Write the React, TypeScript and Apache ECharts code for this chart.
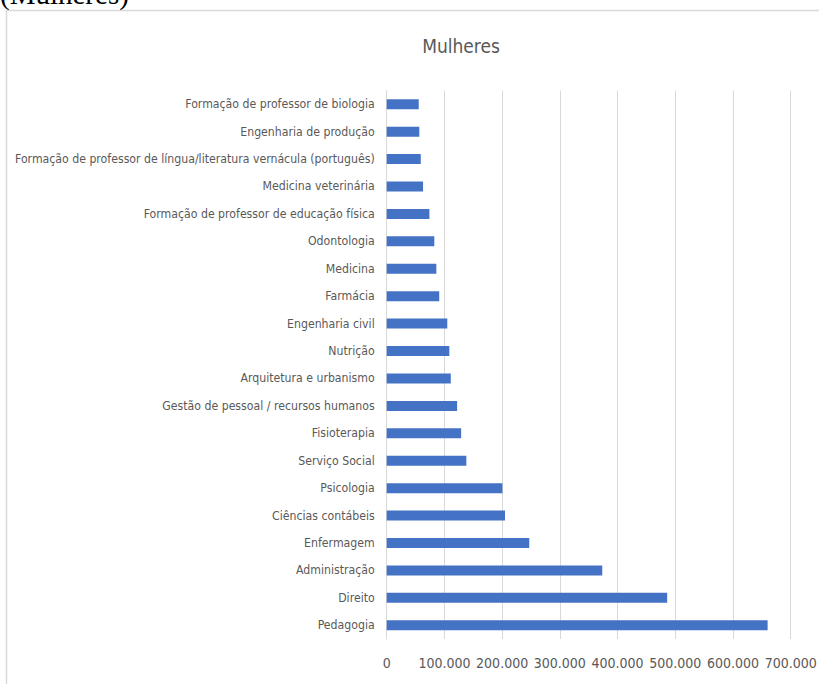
import React, { useEffect, useRef } from "react";
import * as echarts from "echarts";

const categories = [
  "Formação de professor de biologia",
  "Engenharia de produção",
  "Formação de professor de língua/literatura vernácula (português)",
  "Medicina veterinária",
  "Formação de professor de educação física",
  "Odontologia",
  "Medicina",
  "Farmácia",
  "Engenharia civil",
  "Nutrição",
  "Arquitetura e urbanismo",
  "Gestão de pessoal / recursos humanos",
  "Fisioterapia",
  "Serviço Social",
  "Psicologia",
  "Ciências contábeis",
  "Enfermagem",
  "Administração",
  "Direito",
  "Pedagogia",
];

const values = [
  55500, 56500, 59000, 63000, 74000, 82500, 86000, 91000, 105000, 108500,
  111000, 122000, 129000, 138000, 200500, 205000, 247000, 373500, 486000, 660000,
];

const chartTitle = "Mulheres";
const pageCaption = "(Mulheres)";

const NARROW = '"Liberation Sans Narrow", "DejaVu Sans Condensed", "Roboto", sans-serif';

function fmt(v: number): string {
  return String(v).replace(/\B(?=(\d{3})+(?!\d))/g, ".");
}

export default function App() {
  const ref = useRef<HTMLDivElement>(null);
  useEffect(() => {
    if (!ref.current) return;
    const chart = echarts.init(ref.current, undefined, { renderer: "svg" });
    chart.setOption({
      animation: false,
      backgroundColor: "#ffffff",
      title: {
        text: chartTitle,
        left: 456,
        top: 31,
        textAlign: "center",
        textStyle: { color: "#595959", fontSize: 19, fontWeight: "normal", fontFamily: NARROW },
      },
      graphic: [
        {
          type: "rect",
          shape: { x: 6.5, y: 10.5, width: 840, height: 700 },
          style: { fill: "none", stroke: "#d9d9d9", lineWidth: 1.5 },
          silent: true,
        },
        {
          type: "text",
          x: 0,
          y: -20.5,
          style: {
            text: pageCaption,
            fill: "#000000",
            font: '29px "Liberation Serif", "Times New Roman", serif',
          },
          silent: true,
        },
      ],
      grid: {
        left: 386.7,
        right: 28.3,
        top: 90.5,
        bottom: 45,
        containLabel: false,
        outerBoundsMode: "none",
      },
      xAxis: {
        type: "value",
        min: 0,
        max: 700000,
        interval: 100000,
        axisLine: { show: false },
        axisTick: { show: false },
        splitLine: { show: true, lineStyle: { color: "#d9d9d9", width: 1 } },
        axisLabel: {
          color: "#595959",
          fontSize: 14,
          fontFamily: NARROW,
          margin: 17,
          formatter: (v: number) => fmt(v),
        },
      },
      yAxis: {
        type: "category",
        data: categories,
        inverse: true,
        axisLine: { show: true, lineStyle: { color: "#d9d9d9", width: 1 } },
        axisTick: { show: false },
        axisLabel: { color: "#595959", fontSize: 12.2, fontFamily: NARROW, margin: 12 },
      },
      series: [
        {
          type: "bar",
          data: values,
          barWidth: 10,
          itemStyle: { color: "#4472C4" },
        },
      ],
    });
    return () => chart.dispose();
  }, []);
  return (
    <div
      ref={ref}
      style={{ position: "fixed", left: 0, top: 0, width: 819, height: 684 }}
    />
  );
}
